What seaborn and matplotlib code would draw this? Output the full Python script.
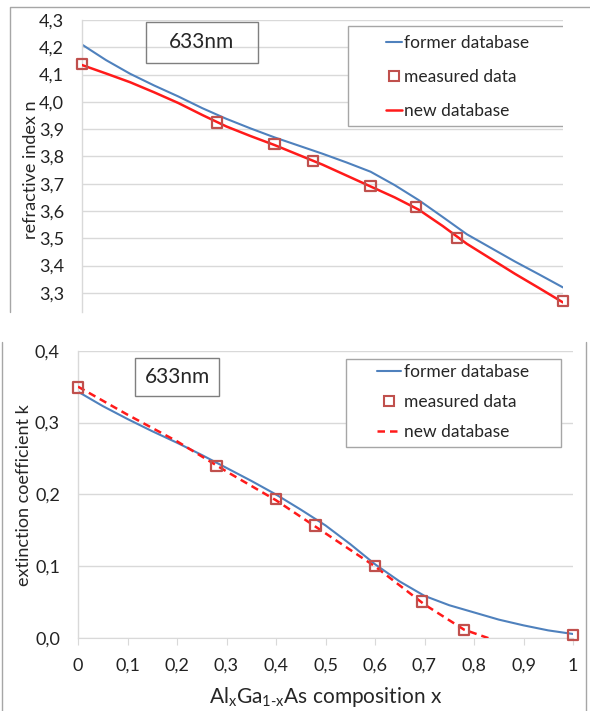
import matplotlib
matplotlib.use("Agg")
import matplotlib.pyplot as plt
import seaborn as sns
from matplotlib.lines import Line2D
from matplotlib.patches import Rectangle
from matplotlib.ticker import FixedLocator, MultipleLocator

# measured AlGaAs points at 633 nm
x_meas = [0.0, 0.28, 0.40, 0.48, 0.60, 0.695, 0.78, 1.0]
n_meas = [4.138, 3.924, 3.846, 3.784, 3.692, 3.614, 3.501, 3.27]
k_meas = [0.349, 0.240, 0.194, 0.157, 0.101, 0.051, 0.012, 0.005]

# database curves, read at 0.05 steps
x_grid = [0.0, 0.05, 0.1, 0.15, 0.2, 0.25, 0.3, 0.35, 0.4, 0.45, 0.5,
          0.55, 0.6, 0.65, 0.7, 0.75, 0.8, 0.85, 0.9, 0.95, 1.0]
n_former = [4.21, 4.153, 4.103, 4.06, 4.02, 3.977, 3.938, 3.903, 3.87, 3.84, 3.81,
            3.778, 3.744, 3.695, 3.64, 3.578, 3.515, 3.465, 3.415, 3.368, 3.32]
n_new = [4.135, 4.104, 4.072, 4.035, 3.996, 3.952, 3.91, 3.875, 3.842, 3.806, 3.77,
         3.73, 3.69, 3.65, 3.605, 3.545, 3.48, 3.425, 3.37, 3.318, 3.265]
k_former = [0.343, 0.323, 0.305, 0.288, 0.272, 0.255, 0.237, 0.219, 0.200, 0.179, 0.157,
            0.131, 0.103, 0.079, 0.059, 0.046, 0.036, 0.026, 0.018, 0.011, 0.006]
x_k_new = [0.0, 0.1, 0.2, 0.3, 0.4, 0.5, 0.6, 0.7, 0.78, 0.83]
k_new = [0.350, 0.311, 0.274, 0.232, 0.192, 0.146, 0.100, 0.047, 0.012, 0.0]

n_ticks = [3.3, 3.4, 3.5, 3.6, 3.7, 3.8, 3.9, 4.0, 4.1, 4.2, 4.3]
k_ticks = [0.0, 0.1, 0.2, 0.3, 0.4]
x_ticks = [0.0, 0.1, 0.2, 0.3, 0.4, 0.5, 0.6, 0.7, 0.8, 0.9, 1.0]
x_labels = ["0", "0,1", "0,2", "0,3", "0,4", "0,5", "0,6", "0,7", "0,8", "0,9", "1"]

BLUE = "#4F81BD"
RED = "#FF1A1A"
MARK = "#C0504D"
GRID = "#D9D9D9"
FRAME = "#A6A6A6"

sns.set_style("white")
plt.rcParams["font.family"] = ["Lato", "DejaVu Sans"]
plt.rcParams["mathtext.fontset"] = "custom"
plt.rcParams["mathtext.rm"] = "Lato"

W, H = 590, 711
fig = plt.figure(figsize=(W / 100, H / 100), dpi=100)


def px_axes(x0, y0, x1, y1):
    return fig.add_axes([x0 / W, 1 - y1 / H, (x1 - x0) / W, (y1 - y0) / H])


def fig_rect(x0, y0, x1, y1, **kw):
    fig.add_artist(Rectangle((x0 / W, 1 - y1 / H), (x1 - x0) / W, (y1 - y0) / H,
                             transform=fig.transFigure, fill=False, **kw))


def fig_vline(x, y0, y1):
    fig.add_artist(Line2D([x / W, x / W], [1 - y0 / H, 1 - y1 / H],
                          transform=fig.transFigure, color=FRAME, lw=1.0))


def style_axes(ax):
    for s in ["top", "right", "bottom"]:
        ax.spines[s].set_visible(False)
    ax.spines["left"].set_color(GRID)
    ax.spines["left"].set_linewidth(1.0)
    ax.grid(axis="y", color=GRID, lw=1.0)
    ax.grid(axis="x", visible=False)
    ax.set_axisbelow(True)
    ax.tick_params(axis="y", length=0, pad=13, labelsize=13, colors="#222222")


def legend_box(ax, handles, labels, box, anchor, handlelength, spacing):
    x0, y0, x1, y1 = box
    ax.add_patch(Rectangle((x0, y0), x1 - x0, y1 - y0, transform=ax.transAxes,
                           fill=True, facecolor="white", edgecolor=FRAME,
                           lw=1.0, zorder=5))
    leg = ax.legend(handles, labels, loc="center left", bbox_to_anchor=anchor,
                    frameon=False, fontsize=12.5, handlelength=handlelength,
                    handletextpad=0.15, labelspacing=spacing, borderpad=0,
                    borderaxespad=0)
    leg.set_zorder(6)


def note(x0, y0, x1, y1):
    fig_rect(x0, y0, x1, y1, edgecolor="#7F7F7F", lw=1.0)
    fig.text((x0 + x1) / 2 / W, 1 - (y0 + y1) / 2 / H, "633nm", fontsize=15,
             ha="center", va="center")


# ---- top panel: refractive index ----
ax1 = px_axes(82, 20, 563, 312)
sns.lineplot(x=x_grid, y=n_former, ax=ax1, color=BLUE, lw=1.5, zorder=2)
sns.lineplot(x=x_grid, y=n_new, ax=ax1, color=RED, lw=1.8, zorder=3)
sns.scatterplot(x=x_meas, y=n_meas, ax=ax1, marker="s", s=55, facecolor="none",
                edgecolor=MARK, linewidth=1.6, zorder=4, clip_on=False)
ax1.set_xlim(0, 1)
ax1.set_ylim(3.23, 4.3)
style_axes(ax1)
ax1.yaxis.set_major_locator(FixedLocator(n_ticks))
ax1.set_yticklabels([f"{v:.1f}".replace(".", ",") for v in n_ticks])
ax1.set_xticks([])
ax1.set_ylabel("")
fig.text(31 / W, 1 - 170 / H, "refractive index n", rotation=90, fontsize=13,
         ha="center", va="center")

h_former = Line2D([], [], color=BLUE, lw=1.5)
h_meas = Line2D([], [], ls="none", marker="s", ms=7, mfc="none", mec=MARK, mew=1.5)
legend_box(ax1, [h_former, h_meas, Line2D([], [], color=RED, lw=1.8)],
           ["former database", "measured data", "new database"],
           ((348 - 82) / 481, 1 - (126 - 20) / 292, (569 - 82) / 481, 1 - (26 - 20) / 292),
           ((386 - 82) / 481, 1 - (77 - 20) / 292), 0.9, 1.05)
note(146, 22, 258, 63)

# ---- bottom panel: extinction coefficient ----
ax2 = px_axes(78, 350.7, 573, 638.3)
sns.lineplot(x=x_grid, y=k_former, ax=ax2, color=BLUE, lw=1.5, zorder=2)
sns.lineplot(x=x_k_new, y=k_new, ax=ax2, color=RED, lw=1.8, ls=(0, (3, 2)), zorder=3)
sns.scatterplot(x=x_meas, y=k_meas, ax=ax2, marker="s", s=55, facecolor="none",
                edgecolor=MARK, linewidth=1.6, zorder=4, clip_on=False)
ax2.set_xlim(0, 1)
ax2.set_ylim(0, 0.4)
style_axes(ax2)
ax2.spines["bottom"].set_visible(True)
ax2.spines["bottom"].set_color(GRID)
ax2.yaxis.set_major_locator(FixedLocator(k_ticks))
ax2.set_yticklabels([f"{v:.1f}".replace(".", ",") for v in k_ticks])
ax2.yaxis.set_minor_locator(MultipleLocator(0.02))
ax2.tick_params(axis="y", which="minor", length=3, color=GRID, direction="inout")
ax2.xaxis.set_major_locator(FixedLocator(x_ticks))
ax2.set_xticklabels(x_labels)
ax2.tick_params(axis="x", length=5, color=GRID, pad=9, labelsize=13,
                colors="#222222", bottom=True)
ax2.set_ylabel("")
fig.text(24 / W, 1 - 495 / H, "extinction coefficient k", rotation=90,
         fontsize=13, ha="center", va="center")
fig.text(326 / W, 1 - 697 / H,
         r"Al$_\mathrm{x}$Ga$_\mathrm{1\text{-}x}$As composition x",
         fontsize=15, ha="center", va="center")

h_new_dash = Line2D([], [], color=RED, lw=1.8, ls=(0, (3, 2)))
legend_box(ax2, [h_former, h_meas, h_new_dash],
           ["former database", "measured data", "new database"],
           ((346 - 78) / 495, 1 - (447 - 350.7) / 287.6, (561 - 78) / 495,
            1 - (359 - 350.7) / 287.6),
           ((377 - 78) / 495, 1 - (402 - 350.7) / 287.6), 1.4, 0.8)
note(135, 358, 219, 396)

# outer chart frames
fig.add_artist(Line2D([9.5 / W, 9.5 / W, 1.0], [1 - 312 / H, 1 - 7 / H, 1 - 7 / H],
                      transform=fig.transFigure, color=FRAME, lw=1.0))
fig_vline(2, 342, H)
fig_vline(586, 342, H)

fig.savefig("out.png", dpi=100)
